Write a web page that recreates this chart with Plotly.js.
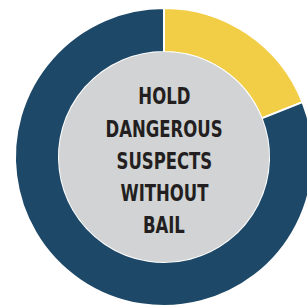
<!DOCTYPE html>
<html>
<head>
<meta charset="utf-8">
<script src="https://cdn.plot.ly/plotly-3.0.1.min.js"></script>
<style>
html,body{margin:0;padding:0;overflow:hidden;background:#fff;width:307px;height:305px;}
#chart{position:absolute;left:0;top:0;width:328px;height:314px;}
</style>
</head>
<body>
<div id="chart"></div>
<script>
const labels = ["Yes", "No"];
const values = [19, 81];
const sliceColors = ["#f2cd46", "#1d4868"];
const centerLines = ["HOLD", "DANGEROUS", "SUSPECTS", "WITHOUT", "BAIL"];

const holeFrac = 0.705;
const lineYpx = [96, 129, 161, 193, 225];
const plotTop = 8, plotH = 298;

const annotations = centerLines.map((t, i) => ({
  text: "<b>" + t + "</b>",
  x: 0.5, xref: "paper", xanchor: "center",
  y: 1 - (lineYpx[i] - plotTop) / plotH, yref: "paper", yanchor: "middle",
  showarrow: false,
  font: {family: "DejaVu Sans Condensed, sans-serif", size: 23.5, color: "#231f20"}
}));

Plotly.newPlot("chart", [{
  type: "pie",
  labels: labels,
  values: values,
  hole: holeFrac,
  sort: false,
  direction: "clockwise",
  rotation: 0,
  textinfo: "none",
  hoverinfo: "none",
  marker: {colors: sliceColors, line: {color: "#ffffff", width: 2}},
  showlegend: false
}], {
  width: 328, height: 314,
  margin: {l: 15, r: 15, t: 8, b: 8, pad: 0},
  paper_bgcolor: "#ffffff",
  plot_bgcolor: "#ffffff",
  showlegend: false,
  shapes: [{
    type: "circle", xref: "paper", yref: "paper",
    x0: 0.5 - holeFrac / 2, x1: 0.5 + holeFrac / 2,
    y0: 0.5 - holeFrac / 2, y1: 0.5 + holeFrac / 2,
    fillcolor: "#d1d3d4", line: {width: 0}, layer: "above"
  }],
  annotations: annotations
}, {staticPlot: true, displayModeBar: false}).then(gd => {
  // condense the centre label horizontally, like the narrow typeface in the original
  gd.querySelectorAll(".annotation-text").forEach(el => {
    const bb = el.getBBox();
    const cx = bb.x + bb.width / 2;
    el.setAttribute("transform", `translate(${cx},0) scale(0.78,1) translate(${-cx},0)`);
  });
});
</script>
</body>
</html>
